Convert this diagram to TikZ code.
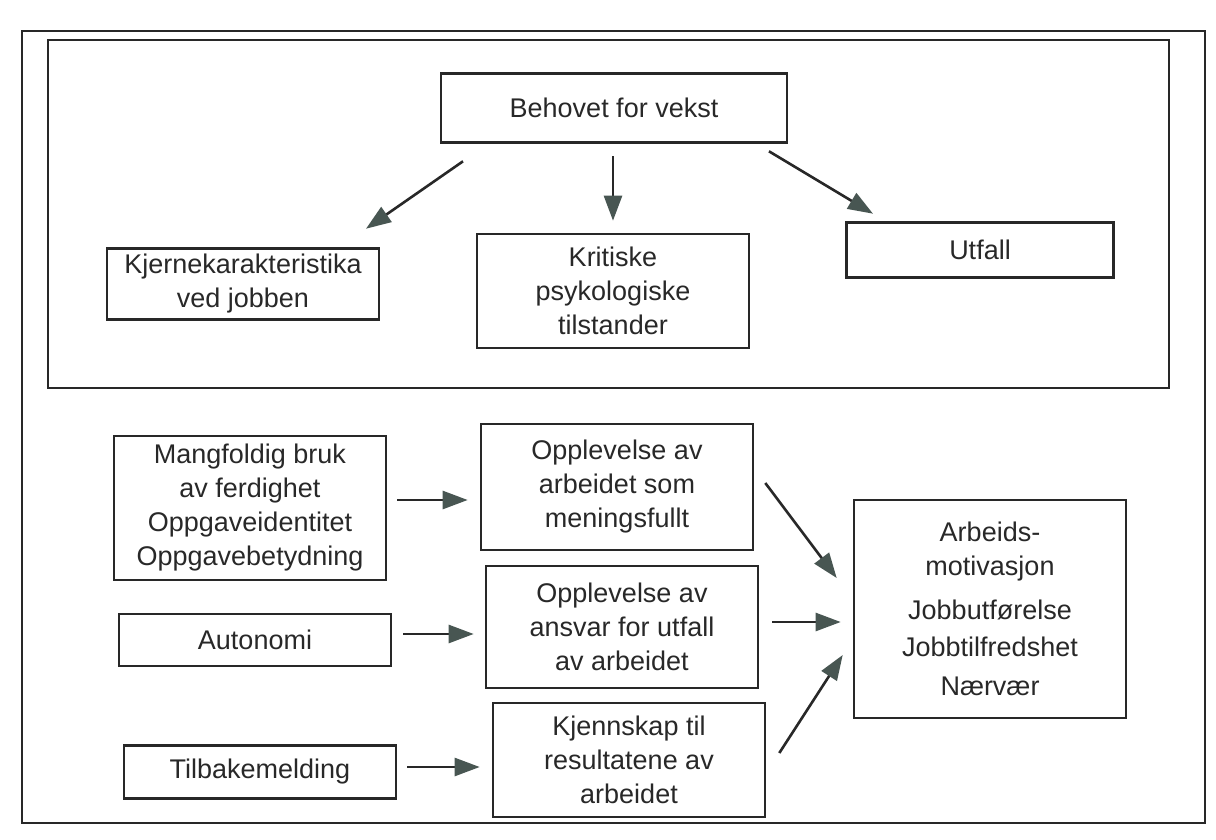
\documentclass[tikz,border=0pt]{standalone}
\usepackage{fontspec}
\setmainfont{Liberation Sans}
\usepackage{xcolor}
\usepackage{tikz}
\usetikzlibrary{arrows.meta, positioning, calc}
\definecolor{ScanInk}{RGB}{40, 40, 40}
\definecolor{ScanArrow}{RGB}{72, 86, 82}
\tikzset{
  jcmbox/.style={draw=ScanInk, line width=1.3pt, align=center, inner sep=0pt, text=ScanInk,
                 minimum width=136pt, font=\fontsize{13.5}{17}\selectfont},
  jcmarrow/.style={draw=ScanInk, line width=1.3pt,
                   -{Triangle[length=12.5pt, width=9pt, color=ScanArrow]}}
}

\begin{document}
\begin{tikzpicture}[x=0.5pt, y=-0.5pt]
    \useasboundingbox (0,0) rectangle (1216,840);
    \draw[ScanInk, line width=1.2pt] (22,31) rectangle (1205,823);
    \draw[ScanInk, line width=1.4pt] (48,40) rectangle (1169,388);

    \node[jcmbox, minimum width=173pt, minimum height=34.5pt] (behov) at (614,108) {Behovet for vekst};
    \node[jcmbox, minimum height=35.5pt] (kjerne) at (243,284) {Kjernekarakteristika\\ved jobben};
    \node[jcmbox, minimum height=57pt] (krit) at (613,291) {Kritiske\\psykologiske\\tilstander};
    \node[jcmbox, minimum width=133.5pt, minimum height=27.5pt] (utfall) at (980,250) {Utfall};

    \node[jcmbox, minimum height=72pt] (mangf) at (250,508)
          {Mangfoldig bruk\\av ferdighet\\Oppgaveidentitet\\Oppgavebetydning};
    \node[jcmbox, minimum height=26pt] (auto) at (255,640) {Autonomi};
    \node[jcmbox, minimum height=26.5pt] (tilbake) at (260,772) {Tilbakemelding};

    \node[jcmbox, minimum height=63pt] (menings) at (617,487) {Opplevelse av\\arbeidet som\\meningsfullt};
    \node[jcmbox, minimum height=61pt] (ansvar) at (622,627) {Opplevelse av\\ansvar for utfall\\av arbeidet};
    \node[jcmbox, minimum height=57pt] (kjennskap) at (629,760) {Kjennskap til\\resultatene av\\arbeidet};

    \node[jcmbox, minimum height=109pt] (arbeid) at (990,609)
          {Arbeids-\\motivasjon\\[5pt]Jobbutførelse\\[1.5pt]Jobbtilfredshet\\[2.5pt]Nærvær};

    \draw[jcmarrow] ([shift={(-151,17.5)}]behov.south) -- ([shift={(123,-18.5)}]kjerne.north);
    \draw[jcmarrow] ([shift={(-1,12.5)}]behov.south) -- ([shift={(0,-12)}]krit.north);
    \draw[jcmarrow] ([shift={(155,7.5)}]behov.south) -- ([shift={(-107,-7.5)}]utfall.north);

    \draw[jcmarrow] ([shift={(10,-8)}]mangf.east) -- ([shift={(-12,13)}]menings.west);
    \draw[jcmarrow] ([shift={(11,-6)}]auto.east) -- ([shift={(-11,7)}]ansvar.west);
    \draw[jcmarrow] ([shift={(10,-5)}]tilbake.east) -- ([shift={(-12,7)}]kjennskap.west);

    \draw[jcmarrow] ([shift={(11,-4)}]menings.east) -- ([shift={(-16,-31)}]arbeid.west);
    \draw[jcmarrow] ([shift={(13,-5)}]ansvar.east) -- ([shift={(-12,13)}]arbeid.west);
    \draw[jcmarrow] ([shift={(13,-7)}]kjennskap.east) -- ([shift={(-10,46)}]arbeid.west);
\end{tikzpicture}
\end{document}
